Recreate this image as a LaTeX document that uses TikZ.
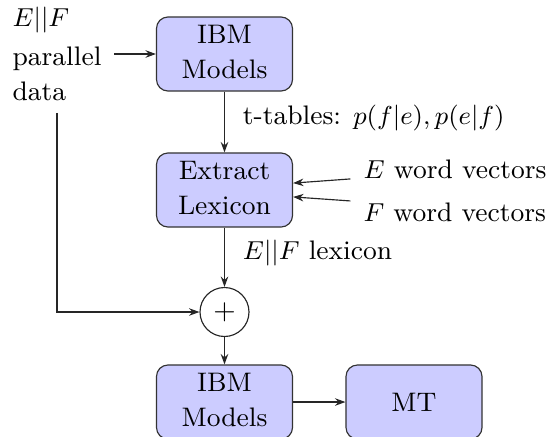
\documentclass[tikz,border=0pt]{standalone}
\usetikzlibrary{arrows.meta}
\newcommand{\stacked}[2][c]{\begin{tabular}{@{}#1@{}}#2\end{tabular}}
\begin{document}
\begin{tikzpicture}[x=0.347pt, y=-0.347pt,
  every node/.append style={font=\fontsize{9.3}{12.1}\selectfont},
  stage/.style={draw=black!80, fill=blue!20, rounded corners=4pt,
    minimum width=47.2pt, minimum height=25.7pt, inner sep=0pt},
  merge/.style={draw=black!85, circle, minimum size=17pt, inner sep=0pt, font=\sffamily},
  flow/.style={draw=black!85, -{Stealth[length=3.6pt,width=2.6pt]}},
  edgelabel/.style={pos=0.54, anchor=base west, inner sep=0pt, xshift=6.2pt}
]
\clip (0,0) rectangle (547,436);

% processing stages
\node[stage] (ibm1) at (224.5,54) {\stacked{IBM\\Models}};
\node[stage] (lex)  at (224.5,190) {\stacked{Extract\\Lexicon}};
\node[merge] (plus) at (224.5,312) {+};
\node[stage] (ibm2) at (224.5,402) {\stacked{IBM\\Models}};
\node[stage] (mt)   at (414,402) {MT};

% inputs
\node[inner xsep=4.3pt, inner ysep=0.5pt]
  (src) at (57,56.6) {\stacked[l]{$E||F$\\[1.2pt]parallel\\[0.2pt]data}};
\node[anchor=base west, inner sep=0pt] (ew) at (363,178) {$E$ word vectors};
\node[anchor=base west, inner sep=0pt] (fw) at (363,221) {$F$ word vectors};

% connectors
\draw[flow] (src.east |- ibm1.west) -- (ibm1.west);
\draw[flow] (ibm1) -- (lex)
  node[edgelabel] {t-tables: $p(f|e), p(e|f)$};
\draw[flow, shorten <=4.4pt] (ew.base west) -- ([yshift=2.4pt]lex.east);
\draw[flow, shorten <=4.4pt] (fw.north west) -- ([yshift=-2.4pt]lex.east);
\draw[flow] (lex) -- (plus)
  node[edgelabel] {$E||F$ lexicon};
\draw[flow] (src.south) |- (plus.west);
\draw[flow] (plus) -- (ibm2);
\draw[flow] (ibm2) -- (mt);
\end{tikzpicture}
\end{document}
